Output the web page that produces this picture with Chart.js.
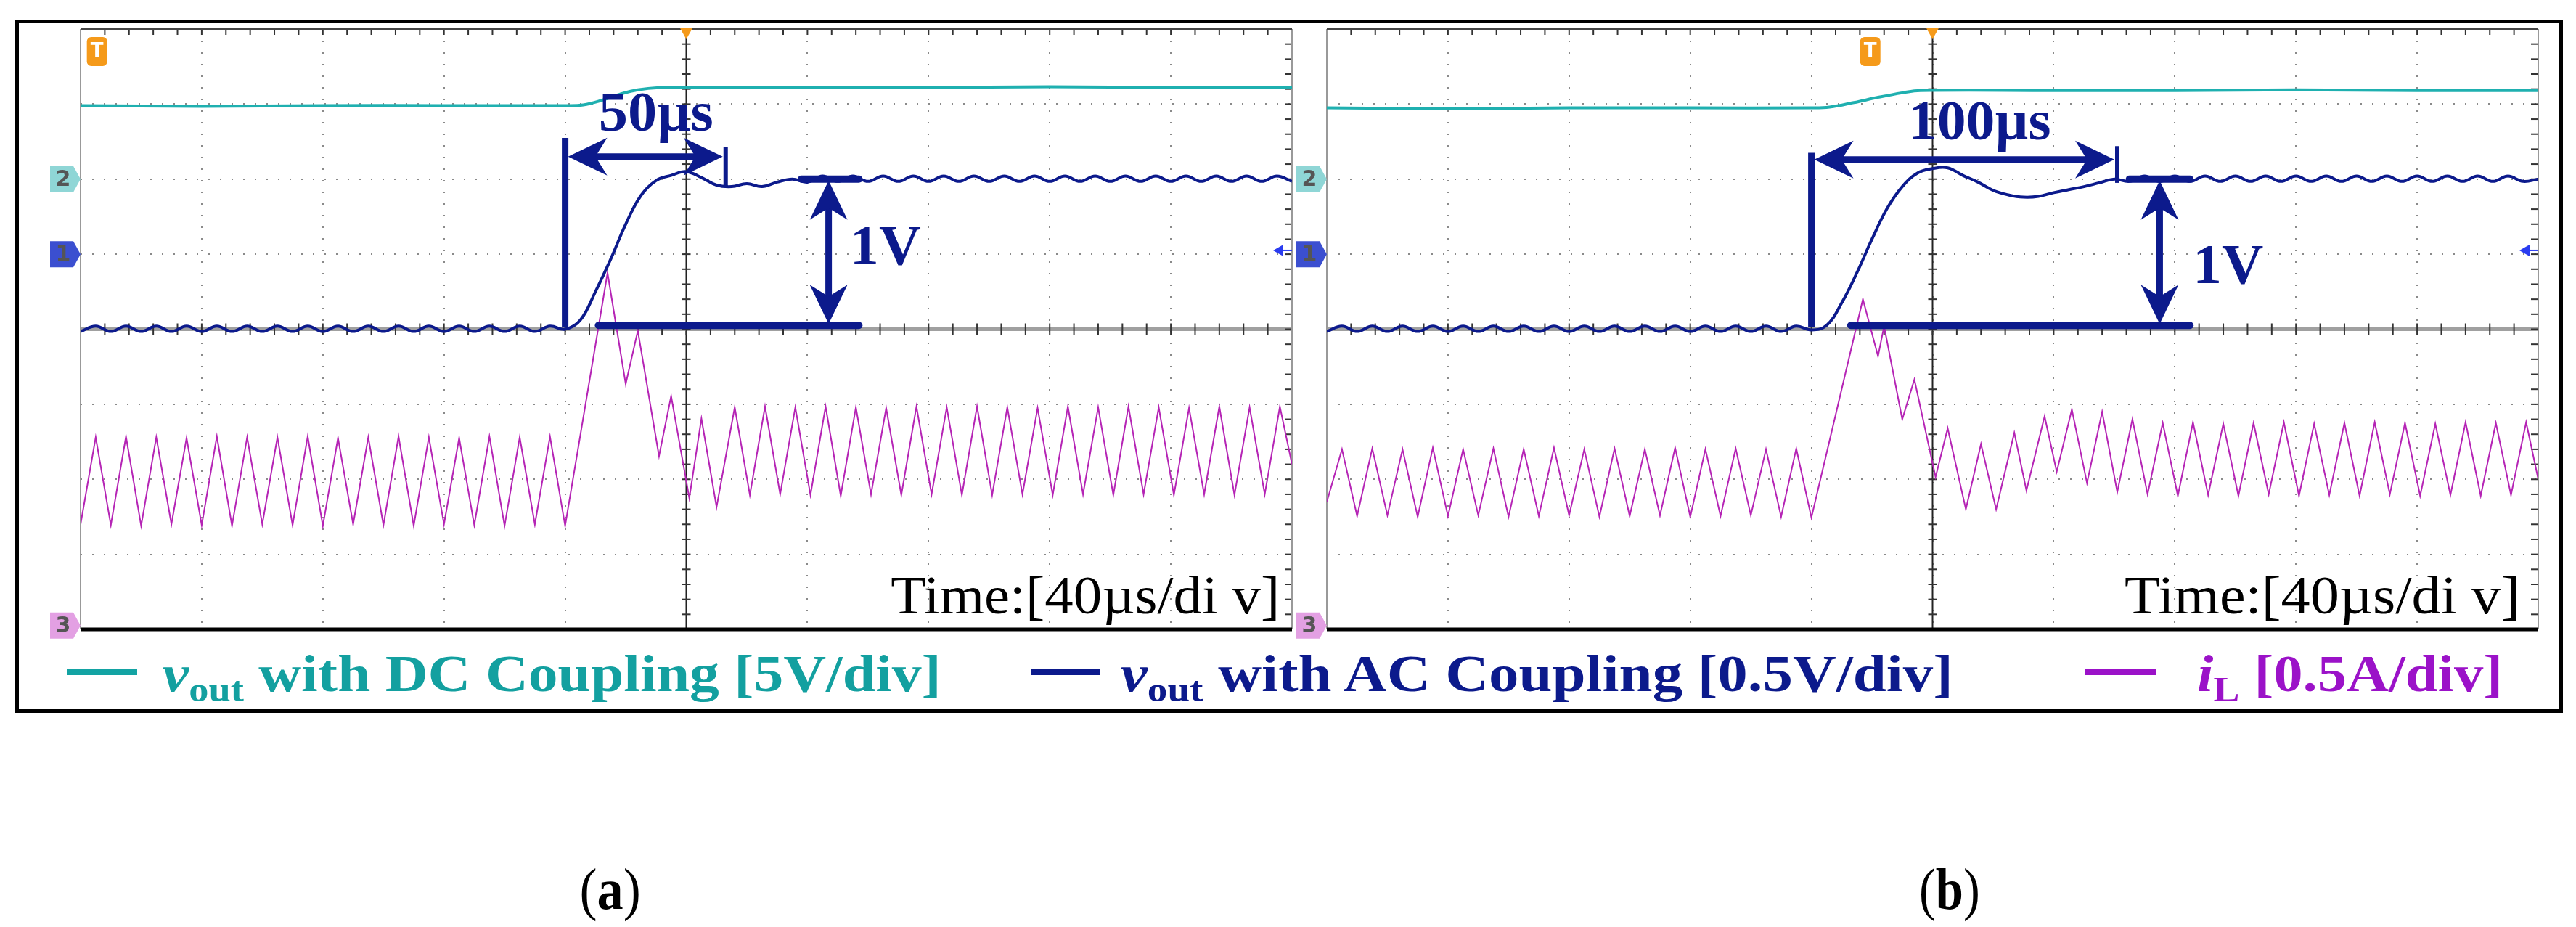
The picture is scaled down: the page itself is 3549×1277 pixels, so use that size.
<!DOCTYPE html>
<html>
<head>
<meta charset="utf-8">
<script src="https://cdn.jsdelivr.net/npm/chart.js@4/dist/chart.umd.min.js"></script>
<style>
  body { margin: 0; background: #fff; width: 3549px; height: 1277px; position: relative; overflow: hidden; }
  #frame { position: absolute; left: 21px; top: 27px; width: 3510px; height: 955px; border: 5px solid #000; box-sizing: border-box; }
  canvas { position: absolute; }
  .leg { position: absolute; font-family: "Liberation Serif", serif; font-weight: bold; font-size: 72px; white-space: nowrap; transform-origin: 0 50%; line-height: 1; }
  .leg i { font-style: italic; }
  .leg sub { font-size: 48px; vertical-align: -14px; }
  .mark { position: absolute; height: 8px; }
  .cap { position: absolute; font-family: "Liberation Serif", serif; font-size: 80px; white-space: nowrap; transform-origin: 50% 50%; line-height: 1; }
</style>
</head>
<body>
<div id="frame"></div>
<canvas id="chartA" width="1735" height="855" style="left:60px;top:30px"></canvas>
<canvas id="chartB" width="1735" height="855" style="left:1778px;top:30px"></canvas>

<div class="mark" style="left:92px;top:922px;width:97px;background:#13a3a3"></div>
<div class="leg" data-w="1073" style="left:224px;top:892px;color:#13a0a0"><i>v</i><sub>out</sub> with DC Coupling [5V/div]</div>
<div class="mark" style="left:1420px;top:922px;width:95px;background:#0c1a8c"></div>
<div class="leg" data-w="1147" style="left:1544px;top:892px;color:#0c1a8c"><i>v</i><sub>out</sub> with AC Coupling [0.5V/div]</div>
<div class="mark" style="left:2873px;top:922px;width:97px;background:#9b12c8"></div>
<div class="leg" data-w="421" style="left:3027px;top:892px;color:#9b12c8"><i>i</i><sub>L</sub> [0.5A/div]</div>

<div class="cap" data-w="84" style="left:798px;top:1185px">(<b>a</b>)</div>
<div class="cap" data-w="84" style="left:2644px;top:1185px">(<b>b</b>)</div>

<script>
// time grid shared by the voltage traces (µs)
const T5 = [0,5,10,15,20,25,30,35,40,45,50,55,60,65,70,75,80,85,90,95,100,105,110,115,120,125,130,135,140,145,150,155,
  160,165,170,175,180,185,190,195,200,205,210,215,220,225,230,235,240,245,250,255,260,265,270,275,280,285,290,295,
  300,305,310,315,320,325,330,335,340,345,350,355,360,365,370,375,380,385,390,395,400];

// panel (a) — values in screen divisions (0 = bottom, 8 = top)
const dcA_t = [0,40,80,120,160,166,172,178,184,191,200,240,280,320,360,400];
const dcA_v = [6.98,6.97,6.98,6.98,6.98,6.99,7.05,7.13,7.19,7.22,7.22,7.22,7.22,7.23,7.22,7.22];
const acA_v = [3.97,4.04,3.97,4.04,3.97,4.04,3.97,4.04,3.97,4.04,3.97,4.04,3.97,4.04,3.97,4.04,
  3.97,4.04,3.97,4.04,3.97,4.04,3.97,4.04,3.97,4.04,3.97,4.04,3.97,4.04,3.97,4.04,
  4.0,4.12,4.5,4.93,5.4,5.78,5.98,6.05,6.1,6.02,5.92,5.9,5.94,5.9,5.96,6.0,5.96,6.04,
  5.97,6.04,5.97,6.04,5.97,6.04,5.97,6.04,5.97,6.04,5.97,6.04,5.97,6.04,5.97,6.04,
  5.97,6.04,5.97,6.04,5.97,6.04,5.97,6.04,5.97,6.04,5.97,6.04,5.97,6.04,5.97];
const iLA_t = [0,5,10,15,20,25,30,35,40,45,50,55,60,65,70,75,80,85,90,95,100,105,110,115,120,125,130,135,140,145,150,155,160,
  174,180,184,191,195,201,205,210,216,221,226,231,236,241,246,251,256,261,266,271,276,281,286,291,296,301,306,311,316,
  321,326,331,336,341,346,351,356,361,366,371,376,381,386,391,396,400];
const iLA_v = [1.4,2.56,1.39,2.57,1.38,2.56,1.4,2.55,1.39,2.57,1.38,2.56,1.4,2.56,1.39,2.57,1.38,2.55,1.4,2.56,1.39,
  2.57,1.38,2.56,1.4,2.55,1.39,2.57,1.38,2.56,1.4,2.57,1.38,
  4.75,3.27,3.98,2.31,3.11,1.75,2.81,1.63,2.96,1.79,2.97,1.8,2.96,1.79,2.97,1.78,2.96,1.8,2.95,1.79,2.97,1.8,2.96,
  1.79,2.97,1.79,2.96,1.8,2.95,1.79,2.97,1.8,2.96,1.79,2.97,1.8,2.96,1.79,2.95,1.8,2.97,1.79,2.96,1.8,2.97,2.2];

// panel (b)
const dcB_t = [0,40,80,120,160,166,174,182,190,196,240,280,320,360,400];
const dcB_v = [6.95,6.94,6.95,6.95,6.95,6.96,7.02,7.09,7.15,7.18,7.18,7.18,7.19,7.18,7.18];
const acB_v = [3.97,4.04,3.97,4.04,3.97,4.04,3.97,4.04,3.97,4.04,3.97,4.04,3.97,4.04,3.97,4.04,
  3.97,4.04,3.97,4.04,3.97,4.04,3.97,4.04,3.97,4.04,3.97,4.04,3.97,4.04,3.97,4.04,
  3.99,4.05,4.35,4.75,5.2,5.61,5.9,6.08,6.14,6.15,6.05,5.96,5.85,5.79,5.76,5.77,5.82,5.86,5.9,5.95,6.0,5.97,6.04,
  5.97,6.04,5.97,6.04,5.97,6.04,5.97,6.04,5.97,6.04,5.97,6.04,5.97,6.04,5.97,6.04,5.97,6.04,5.97,6.04,5.97,6.04,5.97,6.04,5.97,6.0];
const iLB_t = [0,5,10,15,20,25,30,35,40,45,50,55,60,65,70,75,80,85,90,95,100,105,110,115,120,125,130,135,140,145,150,155,160,
  177,182,184,190,194,201,205,211,216,221,227,231,237,241,246,251,256,261,266,271,
  276,281,286,291,296,301,306,311,316,321,326,331,336,341,346,351,356,361,366,371,376,381,386,391,396,400];
const iLB_v = [1.7,2.4,1.51,2.41,1.52,2.4,1.5,2.42,1.51,2.4,1.52,2.41,1.5,2.4,1.51,2.42,1.52,2.4,1.5,2.41,1.51,
  2.4,1.52,2.42,1.5,2.4,1.51,2.41,1.52,2.4,1.5,2.41,1.49,
  4.4,3.64,4.04,2.8,3.33,2.03,2.68,1.6,2.47,1.6,2.62,1.85,2.84,2.1,2.93,1.95,2.9,1.83,2.8,1.8,
  2.75,1.78,2.76,1.79,2.74,1.78,2.75,1.8,2.76,1.78,2.74,1.79,2.75,1.78,2.76,1.8,2.75,1.78,2.74,1.79,2.76,1.78,2.75,1.79,2.76,2.0];

// annotation geometry (µs, divisions)
const annA = { vline: [160, 4.03, 6.55], arrow: [160, 213, 6.3], stop: [213, 6.43, 5.9], base: [171, 257, 4.05],
  top: [238, 257, 6.0], varrow: [247, 6.0, 4.05], dt: ['50µs', 190, 6.84, 158], dv: ['1V', 254, 5.06, 98], time: [396, 0.21, 536], T: 4 };
const annB = { vline: [160, 4.03, 6.35], arrow: [160, 261, 6.26], stop: [261, 6.44, 5.95], base: [173, 285, 4.05],
  top: [265, 285, 6.0], varrow: [275, 6.0, 4.05], dt: ['100µs', 215.5, 6.72, 197], dv: ['1V', 286, 4.81, 97], time: [394, 0.21, 545], T: 178 };

const BLUE = '#0c1a8c';

function fitText(ctx, str, x, y, w, align) {
  const m = ctx.measureText(str).width;
  ctx.save();
  ctx.translate(x, y);
  ctx.scale(w / m, 1);
  ctx.textAlign = 'left';
  ctx.fillText(str, align === 'center' ? -m / 2 : align === 'right' ? -m : 0, 0);
  ctx.restore();
}

function arrowHead(ctx, x, y, dx, dy) {
  // tip at x,y pointing along (dx,dy)
  const L = 54, W = 26;
  ctx.beginPath();
  ctx.moveTo(x, y);
  ctx.lineTo(x - dx * L - dy * W, y - dy * L + dx * W);
  ctx.lineTo(x - dx * L * 0.7, y - dy * L * 0.7);
  ctx.lineTo(x - dx * L + dy * W, y - dy * L - dx * W);
  ctx.closePath();
  ctx.fill();
}

function marker(ctx, x, y, fill, label) {
  ctx.save();
  ctx.fillStyle = fill;
  ctx.beginPath();
  ctx.moveTo(x - 42, y - 18); ctx.lineTo(x - 10, y - 18); ctx.lineTo(x, y); ctx.lineTo(x - 10, y + 18); ctx.lineTo(x - 42, y + 18);
  ctx.closePath(); ctx.fill();
  ctx.fillStyle = '#555';
  ctx.font = 'bold 30px "DejaVu Sans"';
  ctx.textAlign = 'center'; ctx.textBaseline = 'middle';
  ctx.fillText(label, x - 24, y + 1);
  ctx.restore();
}

const scopePlugin = {
  id: 'scope',
  beforeDatasetsDraw(chart) {
    const { ctx, chartArea: a, scales: { x, y } } = chart;
    ctx.save();
    // centre lines
    ctx.strokeStyle = '#222'; ctx.lineWidth = 2;
    ctx.beginPath(); ctx.moveTo(x.getPixelForValue(200), a.top); ctx.lineTo(x.getPixelForValue(200), a.bottom); ctx.stroke();
    // ground reference line
    ctx.strokeStyle = '#a0a0a0'; ctx.lineWidth = 5;
    ctx.beginPath(); ctx.moveTo(a.left, y.getPixelForValue(4)); ctx.lineTo(a.right, y.getPixelForValue(4)); ctx.stroke();
    // minor ticks
    ctx.strokeStyle = '#333'; ctx.lineWidth = 2;
    for (let v = 0; v <= 8; v += 0.2) {
      const py = y.getPixelForValue(v), px = x.getPixelForValue(200);
      ctx.beginPath(); ctx.moveTo(px - 6, py); ctx.lineTo(px + 6, py); ctx.stroke();
      ctx.beginPath(); ctx.moveTo(a.right - 10, py); ctx.lineTo(a.right, py); ctx.stroke();
    }
    for (let t = 0; t <= 400; t += 8) {
      const px = x.getPixelForValue(t), py = y.getPixelForValue(4);
      ctx.beginPath(); ctx.moveTo(px, py - 8); ctx.lineTo(px, py + 8); ctx.stroke();
      ctx.beginPath(); ctx.moveTo(px, a.top); ctx.lineTo(px, a.top + 8); ctx.stroke();
    }
    // frame
    ctx.strokeStyle = '#999'; ctx.lineWidth = 2;
    ctx.beginPath(); ctx.moveTo(a.left, a.top); ctx.lineTo(a.left, a.bottom); ctx.moveTo(a.right, a.top); ctx.lineTo(a.right, a.bottom); ctx.stroke();
    ctx.strokeStyle = '#444'; ctx.lineWidth = 3;
    ctx.beginPath(); ctx.moveTo(a.left, a.top); ctx.lineTo(a.right, a.top); ctx.stroke();
    ctx.strokeStyle = '#000'; ctx.lineWidth = 5;
    ctx.beginPath(); ctx.moveTo(a.left, a.bottom); ctx.lineTo(a.right, a.bottom); ctx.stroke();
    ctx.restore();
  },
  afterDatasetsDraw(chart, args, o) {
    const { ctx, chartArea: a, scales: { x, y } } = chart;
    const X = v => x.getPixelForValue(v), Y = v => y.getPixelForValue(v);
    const n = o.ann;
    ctx.save();
    ctx.strokeStyle = BLUE; ctx.fillStyle = BLUE; ctx.lineWidth = 9; ctx.lineCap = 'butt';
    const seg = (x1, y1, x2, y2) => { ctx.beginPath(); ctx.moveTo(x1, y1); ctx.lineTo(x2, y2); ctx.stroke(); };
    seg(X(n.vline[0]), Y(n.vline[1]), X(n.vline[0]), Y(n.vline[2]));
    seg(X(n.arrow[0]) + 30, Y(n.arrow[2]), X(n.arrow[1]) - 30, Y(n.arrow[2]));
    arrowHead(ctx, X(n.arrow[0]) + 4, Y(n.arrow[2]), -1, 0);
    arrowHead(ctx, X(n.arrow[1]) - 4, Y(n.arrow[2]), 1, 0);
    ctx.lineWidth = 6;
    seg(X(n.stop[0]), Y(n.stop[1]), X(n.stop[0]), Y(n.stop[2]));
    ctx.lineWidth = 10; ctx.lineCap = 'round';
    seg(X(n.base[0]), Y(n.base[2]), X(n.base[1]), Y(n.base[2]));
    seg(X(n.top[0]), Y(n.top[2]), X(n.top[1]), Y(n.top[2]));
    ctx.lineCap = 'butt'; ctx.lineWidth = 9;
    seg(X(n.varrow[0]), Y(n.varrow[1]) + 30, X(n.varrow[0]), Y(n.varrow[2]) - 30);
    arrowHead(ctx, X(n.varrow[0]), Y(n.varrow[1]) + 2, 0, -1);
    arrowHead(ctx, X(n.varrow[0]), Y(n.varrow[2]) - 2, 0, 1);
    ctx.textBaseline = 'middle';
    ctx.font = 'bold 78px "Liberation Serif"';
    fitText(ctx, n.dt[0], X(n.dt[1]), Y(n.dt[2]), n.dt[3], 'center');
    fitText(ctx, n.dv[0], X(n.dv[1]), Y(n.dv[2]), n.dv[3], 'left');
    ctx.fillStyle = '#000'; ctx.textBaseline = 'alphabetic';
    ctx.font = '74px "Liberation Serif"';
    fitText(ctx, 'Time:[40µs/di v]', X(n.time[0]), Y(n.time[1]), n.time[2], 'right');
    // channel markers
    marker(ctx, a.left, Y(6), '#8fd6d6', '2');
    marker(ctx, a.left, Y(5), '#3b4fd0', '1');
    marker(ctx, a.left, Y(0.05), '#e3a0e3', '3');
    // trigger markers
    ctx.fillStyle = '#f59a1a';
    ctx.beginPath(); ctx.moveTo(X(200) - 9, a.top - 2); ctx.lineTo(X(200) + 9, a.top - 2); ctx.lineTo(X(200), a.top + 14); ctx.closePath(); ctx.fill();
    const tx = X(n.T) + 6, ty = Y(7.7);
    ctx.beginPath(); ctx.roundRect(tx - 14, ty - 20, 28, 40, 6); ctx.fill();
    ctx.fillStyle = '#fff'; ctx.font = 'bold 26px "DejaVu Sans"'; ctx.textAlign = 'center'; ctx.textBaseline = 'middle';
    ctx.fillText('T', tx, ty);
    // right level arrow
    ctx.fillStyle = '#2a3cf0'; ctx.strokeStyle = '#2a3cf0'; ctx.lineWidth = 2;
    ctx.beginPath(); ctx.moveTo(a.right - 26, Y(5.05)); ctx.lineTo(a.right - 12, Y(5.05) - 8); ctx.lineTo(a.right - 12, Y(5.05) + 8); ctx.closePath(); ctx.fill();
    seg(a.right - 14, Y(5.05), a.right, Y(5.05));
    ctx.restore();
  }
};

function pts(t, v) { return t.map((tt, i) => ({ x: tt, y: v[i] })); }

function makeChart(id, dcT, dcV, acV, iT, iV, ann, pad) {
  return new Chart(document.getElementById(id), {
    type: 'line',
    data: {
      datasets: [
        { data: pts(dcT, dcV), borderColor: '#1fb0b0', borderWidth: 4, pointRadius: 0, tension: 0.4 },
        { data: pts(T5, acV), borderColor: BLUE, borderWidth: 4, pointRadius: 0, tension: 0.4 },
        { data: pts(iT, iV), borderColor: '#b524b5', borderWidth: 2, pointRadius: 0, tension: 0 }
      ]
    },
    options: {
      responsive: false, animation: false, devicePixelRatio: 1,
      layout: { padding: pad },
      plugins: { legend: { display: false }, tooltip: { enabled: false }, scope: { ann } },
      scales: {
        x: { type: 'linear', min: 0, max: 400, ticks: { display: false, stepSize: 40 },
             grid: { color: '#8a8a8a', lineWidth: 2, drawTicks: false }, border: { display: false, dash: [2, 14] } },
        y: { min: 0, max: 8, ticks: { display: false, stepSize: 1 },
             grid: { color: '#8a8a8a', lineWidth: 2, drawTicks: false }, border: { display: false, dash: [2, 14] } }
      }
    },
    plugins: [scopePlugin]
  });
}

makeChart('chartA', dcA_t, dcA_v, acA_v, iLA_t, iLA_v, annA, { left: 51, top: 10, right: 15, bottom: 18 });
makeChart('chartB', dcB_t, dcB_v, acB_v, iLB_t, iLB_v, annB, { left: 50, top: 10, right: 16, bottom: 18 });

document.querySelectorAll('.leg, .cap').forEach(el => {
  const w = el.scrollWidth;
  const s = +el.dataset.w / w;
  if (el.classList.contains('cap')) { el.style.left = (parseFloat(el.style.left) - (w - 84) / 2) + 'px'; }
  el.style.transform = 'scaleX(' + s + ')';
});
</script>
</body>
</html>
